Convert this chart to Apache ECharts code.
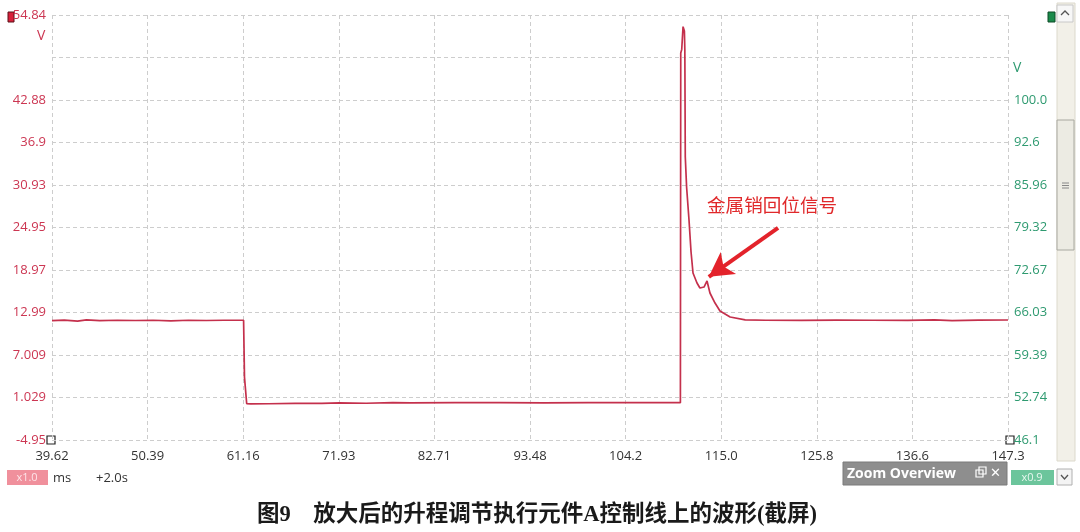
<!DOCTYPE html>
<html>
<head>
<meta charset="utf-8">
<script src="https://cdn.jsdelivr.net/npm/echarts@6/dist/echarts.min.js"></script>
<style>html,body{margin:0;padding:0;background:#fff;}#c{width:1080px;height:532px;}</style>
</head>
<body>
<div id="c"></div>
<script>
// ---- data ----
const timeMs = [39.62, 41.0, 42.5, 43.5, 45.0, 47.0, 49.0, 51.0, 53.0, 55.0, 57.0, 59.0, 61.2,
  61.3, 61.55, 62.0, 64.0, 67.0, 70.0, 72.0, 75.0, 78.0, 80.0, 85.0, 90.0, 95.0, 100.0, 105.0, 110.4,
  110.44, 110.55, 110.7, 110.85, 110.9, 110.95, 111.1, 111.37, 111.6, 111.82, 112.27, 112.6, 113.06, 113.4,
  113.73, 114.3, 114.86, 116.0, 117.7, 120.0, 124.0, 128.0, 132.0, 136.0, 139.0, 141.0, 144.0, 147.3];
const volts = [11.85, 11.92, 11.78, 11.95, 11.85, 11.9, 11.86, 11.9, 11.82, 11.9, 11.86, 11.9, 11.9,
  3.9, 0.15, 0.12, 0.15, 0.2, 0.2, 0.28, 0.22, 0.3, 0.26, 0.3, 0.3, 0.28, 0.3, 0.3, 0.3,
  49.5, 50.0, 53.2, 52.6, 50.0, 34.9, 30.6, 26.0, 21.5, 18.54, 17.14, 16.43, 16.57, 17.42,
  15.73, 14.32, 13.2, 12.35, 11.95, 11.9, 11.88, 11.92, 11.9, 11.88, 11.95, 11.85, 11.92, 11.93];
const xTickLabels = ['39.62', '50.39', '61.16', '71.93', '82.71', '93.48', '104.2', '115.0', '125.8', '136.6', '147.3'];
const yLeftLabels = ['-4.95', '1.029', '7.009', '12.99', '18.97', '24.95', '30.93', '36.9', '42.88', '', '54.84'];
const yRightLabels = ['46.1', '52.74', '59.39', '66.03', '72.67', '79.32', '85.96', '92.6', '100.0', '', ''];
const annotationText = '金属销回位信号';
const annotationTail = [121.4, 24.9];
const annotationTip = [113.6, 18.0];
const captionText = '图9\u3000放大后的升程调节执行元件A控制线上的波形(截屏)';

// axis frames (offset so that ticks start at 0)
const X0 = 39.62, XSPAN = 107.68, XSTEP = 10.768;
const V0 = -4.95, VSPAN = 59.79, VSTEP = 5.979;

const seriesData = timeMs.map((t, i) => [t - X0, volts[i] - V0]);

const gridLine = { show: true, lineStyle: { color: '#cdcdcd', type: [4, 3], width: 1 } };
const labelFont = '"Open Sans", "Noto Sans", sans-serif';

const chart = echarts.init(document.getElementById('c'), null, { renderer: 'canvas' });
chart.setOption({
  animation: false,
  backgroundColor: '#ffffff',
  grid: { left: 52, right: 72, top: 15, bottom: 92, containLabel: false },
  xAxis: {
    type: 'value', min: 0, max: XSPAN, interval: XSTEP,
    axisLine: { show: false }, axisTick: { show: false },
    splitLine: gridLine,
    axisLabel: {
      margin: 10, color: '#333', fontSize: 13, fontFamily: labelFont,
      formatter: v => xTickLabels[Math.round(v / XSTEP)] || ''
    }
  },
  yAxis: [{
    type: 'value', min: 0, max: VSPAN, interval: VSTEP, position: 'left',
    axisLine: { show: false }, axisTick: { show: false },
    splitLine: gridLine,
    axisLabel: {
      margin: 6, color: '#cc3652', fontSize: 13, fontFamily: labelFont,
      formatter: v => yLeftLabels[Math.round(v / VSTEP)] || ''
    }
  }, {
    type: 'value', min: 0, max: VSPAN, interval: VSTEP, position: 'right',
    axisLine: { show: false }, axisTick: { show: false },
    splitLine: { show: false },
    axisLabel: {
      margin: 6, color: '#2e9a70', fontSize: 13, fontFamily: labelFont,
      formatter: v => yRightLabels[Math.round(v / VSTEP)] || ''
    }
  }],
  series: [{
    type: 'line', data: seriesData, showSymbol: false, symbol: 'none',
    lineStyle: { color: '#c4304c', width: 1.7 },
    markLine: {
      silent: true, animation: false,
      label: { show: false },
      lineStyle: { color: '#e3232b', width: 4, type: 'solid' },
      symbolSize: [20, 24],
      data: [[
        { coord: [annotationTail[0] - X0, annotationTail[1] - V0], symbol: 'none' },
        { coord: [annotationTip[0] - X0, annotationTip[1] - V0], symbol: 'arrow' }
      ]]
    }
  }],
  graphic: [
    // axis unit labels
    { type: 'text', left: 37, top: 29, style: { text: 'V', fill: '#cc3652', font: '14px "Open Sans", sans-serif' } },
    { type: 'text', left: 1013, top: 61, style: { text: 'V', fill: '#2e9a70', font: '14px "Open Sans", sans-serif' } },
    // channel markers
    { type: 'rect', shape: { x: 8, y: 12, width: 6, height: 10 }, style: { fill: '#d8203a', stroke: '#5a1018', lineWidth: 1 } },
    { type: 'rect', shape: { x: 1048, y: 12, width: 7, height: 10 }, style: { fill: '#1a8a4a', stroke: '#0d4a26', lineWidth: 1 } },
    { type: 'rect', shape: { x: 47, y: 436, width: 8, height: 8 }, style: { fill: '#fff', stroke: '#222', lineWidth: 1.2 } },
    { type: 'rect', shape: { x: 1006, y: 436, width: 8, height: 8 }, style: { fill: '#fff', stroke: '#222', lineWidth: 1.2 } },
    // annotation text
    { type: 'text', left: 707, top: 196, style: { text: annotationText, fill: '#e0282a', font: '18.6px "Noto Sans CJK SC", sans-serif' } },
    // bottom-left controls
    { type: 'rect', shape: { x: 7, y: 470, width: 41, height: 15 }, style: { fill: '#f0909c' } },
    { type: 'text', x: 27, y: 478, style: { text: 'x1.0', fill: '#fde4e8', font: '11px "Open Sans", sans-serif', align: 'center', verticalAlign: 'middle' } },
    { type: 'text', x: 53, y: 478, style: { text: 'ms', fill: '#333', font: '13px "Open Sans", sans-serif', verticalAlign: 'middle' } },
    { type: 'text', x: 96, y: 478, style: { text: '+2.0s', fill: '#333', font: '13px "Open Sans", sans-serif', verticalAlign: 'middle' } },
    // zoom overview box
    { type: 'rect', shape: { x: 843, y: 462, width: 164, height: 23 }, style: { fill: '#8e8e8e', stroke: '#7a7a7a' } },
    { type: 'text', x: 847, y: 474, style: { text: 'Zoom Overview', fill: '#fff', font: 'bold 14px "Open Sans", sans-serif', verticalAlign: 'middle' } },
    { type: 'rect', shape: { x: 976, y: 470, width: 7, height: 7 }, style: { fill: 'none', stroke: '#fff', lineWidth: 1.2 } },
    { type: 'rect', shape: { x: 979, y: 467, width: 7, height: 7 }, style: { fill: 'none', stroke: '#fff', lineWidth: 1.2 } },
    { type: 'text', x: 990, y: 474, style: { text: '✕', fill: '#fff', font: 'bold 13px "DejaVu Sans", sans-serif', verticalAlign: 'middle' } },
    { type: 'rect', shape: { x: 1011, y: 470, width: 43, height: 15 }, style: { fill: '#6cc59c' } },
    { type: 'text', x: 1032, y: 478, style: { text: 'x0.9', fill: '#e6f7ee', font: '11px "Open Sans", sans-serif', align: 'center', verticalAlign: 'middle' } },
    { type: 'rect', shape: { x: 1057, y: 469, width: 15, height: 16 }, style: { fill: '#f4f4f4', stroke: '#b0b0b0' } },
    { type: 'polyline', shape: { points: [[1061, 475], [1064.5, 479], [1068, 475]] }, style: { stroke: '#555', lineWidth: 1.3, fill: 'none' } },
    // scrollbar
    { type: 'rect', shape: { x: 1057, y: 3, width: 18, height: 458 }, style: { fill: '#f2f0e8', stroke: '#dcd9cc' } },
    { type: 'rect', shape: { x: 1057, y: 5, width: 16, height: 17 }, style: { fill: '#f7f7f7', stroke: '#c8c8c8' } },
    { type: 'polyline', shape: { points: [[1061, 15], [1065, 11], [1069, 15]] }, style: { stroke: '#555', lineWidth: 1.3, fill: 'none' } },
    { type: 'rect', shape: { x: 1057, y: 120, width: 17, height: 130 }, style: { fill: '#ecebe3', stroke: '#a8a8a0' } },
    { type: 'polyline', shape: { points: [[1062, 183], [1069, 183]] }, style: { stroke: '#888' } },
    { type: 'polyline', shape: { points: [[1062, 185.5], [1069, 185.5]] }, style: { stroke: '#888' } },
    { type: 'polyline', shape: { points: [[1062, 188], [1069, 188]] }, style: { stroke: '#888' } },
    // caption
    { type: 'text', x: 537, y: 515, style: { text: captionText, fill: '#1a1a1a', font: 'bold 22.5px "Liberation Serif", "Noto Sans CJK SC", serif', align: 'center', verticalAlign: 'middle' } }
  ]
});
</script>
</body>
</html>
